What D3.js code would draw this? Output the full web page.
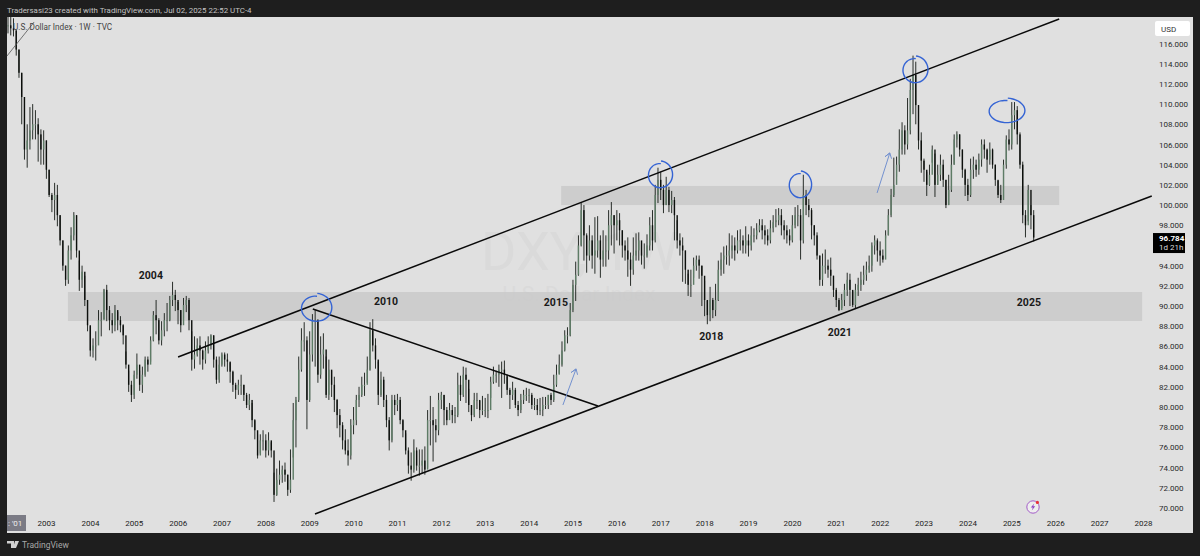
<!DOCTYPE html>
<meta charset="utf-8">
<style>
html, body { margin: 0; padding: 0; background: #1e1e1e; overflow: hidden; }
svg { display: block; font-family: Roboto, "Open Sans", sans-serif; }
</style>
<svg width="1200" height="556"></svg>
<script src="https://d3js.org/d3.v7.min.js"></script>
<script>
// readings, one row is about one year of bars (16 bars per year)
const firstBarYear = 2002.134, barsPerYear = 16;

const highs = [
	119,118.8,118.5,117.3,115.4,113.1,110.7,108,109.7,110,109.4,108.6,107.5,107.4,106.4,103.5,
	101.2,102.2,102,99,96.5,94,96,97.8,99.3,99,94.5,94,93,90.6,88,86.8,
	87.5,89.6,89.4,91.7,92.1,90,89.3,90.1,89.4,89,88.2,85.5,83.6,82.6,83.6,85.3,
	83.6,84,85,85,87,89.5,90.6,88.8,88.5,89.3,90.3,91,92.4,91.6,90.4,89.6,
	90.8,91,90.8,87.5,87,86.8,87,85.7,86.5,87,87.2,87.1,85,85,85.4,85.4,
	85.3,84.4,83.6,82.4,82.7,83.2,82.2,81.4,81.3,80.4,78.8,77.3,77.3,77.7,77.3,77.5,
	76.5,73.5,73.9,74.7,74.2,74.5,73.3,75.8,80.4,81,85,87.8,88.4,87,87.5,89.2,
	89.6,88.7,87,87.3,85,84.7,83.6,83,80.8,79.8,78.5,77.8,76.8,78.8,80,81.2,
	82,83,83.4,85,88.4,88.7,86.8,84.5,83.5,83,81.2,79,81.2,81.2,81.3,81,
	78.8,77.4,76,75.5,76.8,76,75.8,75.8,76.1,79.7,81.1,80,78.8,81.4,81.5,81.2,
	80,80.4,80.2,80,83.4,83.1,84,83.9,81.8,80,81.4,81.4,80.6,81.1,80.9,81.3,
	83,84,83.6,84.2,84.5,84.6,83,81.9,82.5,81.9,80.6,81.3,81.7,81.9,81.8,81.4,
	80.9,80.8,80.9,81,81,81.2,81.4,83.2,84.2,85.2,86.5,87.6,87.9,90.3,92.6,94.4,
	97,100.2,100,97.2,98,97,98.8,98.9,97,97.5,97,99.5,100.3,99,99.5,99.2,
	97.5,96.5,96.8,95.3,96.8,97.2,97.3,96.4,96.2,97.1,98.8,99.5,102,103.7,103.3,102,
	102.8,101.8,101.4,100.8,98.5,97.2,96.8,95.5,93.2,93.6,94.8,95,95,94,92.5,90.5,
	91.9,90.8,92.2,94.5,95.3,95.9,96,97.2,97,96.8,97.5,97.6,97,97.9,97.1,97.9,
	97.7,98.2,98.6,98.6,98,97.6,98.5,99,99.6,99.7,99.6,98.5,98,97.6,99,99.8,
	100,99.6,103,101.5,100.6,99.7,98,97.3,95,95.2,95.6,94.6,94.8,93,91.8,90.8,
	91.2,92.2,93.3,93.2,91.5,92.2,92.8,93.4,94,94.4,95,96.3,97,96.7,96.4,95.6,
	97.5,99.6,101.6,104.7,104.8,107.5,108.2,107.9,110.6,112.5,114.8,114.2,109.9,107.2,104.6,103.3,
	104,105.9,105.1,104,105,104.5,102.5,103,105,107,107.3,107,105.5,103.6,102.6,104.6,
	104.8,104.5,105.1,106.5,106.5,105.6,106.2,105.6,104,102.4,102,104.5,106.9,107.5,110.2,110.2,
	109.8,107.2,104.3,99.5,102,100,99.5
];

const lows = [
	117,116.8,116.7,114.8,112.6,108,104.5,103.7,105.5,106.5,106.5,104.3,104,104,102.6,100.8,
	99.3,98.5,97.9,96,93.5,92,92.2,94.6,96.5,94.8,91.5,91.8,90,87.5,85,84.9,
	84.6,87.5,87,88.7,88.5,87.6,87.3,87.5,87.6,87.4,86.2,83.8,81.5,80.5,80.8,82.8,
	81.6,81.4,83,83.5,84.5,86.5,87.2,86.2,86.1,87,87.5,88.5,90,89.5,88.2,87.4,
	88.8,89.4,87.6,83.6,83.8,85,84.2,83.7,84.3,85.3,85.7,83.9,82.3,82.4,84,84,
	83.5,82.4,81.5,80.8,81.2,81.2,80.6,79.9,79.7,78,76.8,74.9,75.4,75.7,75,75.2,
	75,70.6,71.2,72.3,72.5,72.6,71.2,71.5,75,76,80.5,83.5,85.5,77.8,80.5,84.5,
	84,82.4,82.8,83.8,80.9,80.7,81,79.5,77.9,77,75.8,75.3,74.2,74.8,77.3,78.2,
	80,81,81.1,82.4,83.6,85.5,83.8,80.2,81,80,78,75.7,76.5,79.2,79.6,78.3,
	77,75.3,73.4,72.7,73.5,73.7,73.2,73.4,73.3,74,76.2,74.6,76.5,77.2,79.8,78.2,
	78.2,78.8,78.4,78.4,79,80.6,81,80.4,79.5,78.6,79,79.8,78.9,79.2,79,78.9,
	80.9,82.3,82.4,82,80.9,82.3,81.2,79.8,80.7,79.9,79.1,79.4,80.3,80.6,80.4,79.8,
	79.7,79.2,79.2,79.1,79.8,79.8,80.2,80.5,82,83.3,84,85.5,86.3,87,89.4,90.5,
	93,95.9,94.5,93.3,94.5,93.7,93.2,94.8,92.8,93.9,93.9,94.6,96,95.2,96.5,96,
	94.8,94.5,92.9,92,93.1,94.5,94.5,94.1,93.7,94.8,95.5,95.5,96.3,100.2,100.5,99.2,
	100,99.3,99.2,96.5,95.7,95,92.4,92.2,91,90.9,92.8,93.5,92.7,90,89,88.2,
	88.5,88.8,89,90.5,93,93.2,94.1,94,94.7,94.5,95.2,95.5,95.2,95.2,94.9,95.5,
	96.3,96.6,97.3,96.6,96.1,96,96.2,97.3,97.8,98,97,96.6,96.2,96,96.3,97.7,
	97.9,94.6,96.2,99,98.8,96.6,96,94.6,92,92,93.2,92.8,92,90.9,89.9,89.5,
	89.8,90,91,90,89.9,89.7,91,91.5,92.1,92.5,93.3,93.4,95.1,94.4,94,94.3,
	96.7,97,98.8,100.8,102.8,103.3,105,105,105.5,107,109,108,105.5,103.2,102.3,100.9,
	101.9,104.2,100.8,102,102.4,101.8,99.7,100,101.3,104,105.7,104.8,102.7,100.9,100.4,100.8,
	102.6,102.8,103,103.8,104.6,103.2,104,103.6,101.9,100.7,100.2,100.7,103.6,105.4,105.5,107.5,
	106,103.6,98.2,96.8,98.4,97.6,96.4
];

const closes = [
	117.8,117.5,117.3,115.4,113.1,110.7,105.5,106.4,107.4,108,108,107,105.5,106.4,103.5,101,
	100.5,101,99,96.5,94,92.6,95.5,97,99,95.5,92.6,93.4,90.6,88.1,85.6,86.1,
	86.1,88.6,88.6,91.6,89.6,88.6,88.1,89.6,88.6,88.1,87.1,84.2,82.2,81.2,83.2,84.2,
	82.2,83.2,84.7,84.2,86.6,89.1,88.6,86.6,87.6,88.6,88.6,90.6,91.1,90.6,89.6,88.1,
	90.1,90.6,88.6,84.7,85.2,86.1,85.6,84.7,85.6,86.1,87.1,84.7,82.7,84.2,85.2,84.7,
	84.5,83.5,82.2,81.7,82.2,82.2,81.2,80.2,80.7,78.7,77.7,75.2,76.7,76.7,75.7,76.7,
	75.7,71.3,72.8,73.3,73.8,73.3,71.8,72.8,78.7,80.7,83.7,86.6,86.6,80.7,85.2,88.6,
	88.6,83.2,85.2,85.7,81.2,83.7,82.2,80.7,79.2,78.2,76.7,75.7,75.2,78.2,78.7,80.7,
	81.2,82.2,82.2,83.7,87.6,86.1,84.7,81.2,82.7,80.7,78.7,76.7,80.7,80.2,80.7,78.7,
	77.7,75.7,74.2,73.8,75.7,74.2,74.2,74.7,73.8,78.7,78.7,78.2,77.7,80.7,81.2,79.7,
	78.7,79.7,79.2,79.2,82.2,81.2,83.2,82.7,80.2,79.2,80.7,80.7,79.7,79.7,79.7,79.7,
	82.5,83.2,83.2,83.7,83.7,83.2,81.7,81.2,81.7,80.2,79.7,80.7,81.2,81.2,81.2,80.2,
	80.2,79.7,79.7,80.2,80.2,81.2,80.7,82.2,83.2,84.2,85.6,87.1,87.1,89.6,92.1,93.1,
	96,99.5,97,95,96.5,95,95.5,96.5,94.6,95.5,95.5,98,99,98,98.5,97.5,
	96,95.5,94.6,93.6,95,95.5,96.5,95,95,96,98,96.5,101,102.5,101.5,100,
	101.5,100,100.5,99,96.5,96,95.5,93.6,92.1,92.1,94,94.6,94,93,90.6,89.1,
	90.6,89.6,90.6,93.6,94.6,95,95,95.5,96,95.5,96.5,96.5,96,96.5,96,97,
	97,97.5,98,97.5,97,96.5,97.7,98.3,98.5,99,98,97.5,97,96.5,98,99,
	99,96.5,101,100,99.5,98,97,95,92.6,94,94,93.6,93,91.6,90.6,89.6,
	90.6,91.6,92.6,91.6,90.1,91.6,92.1,92.6,93.1,93.6,94,96,96.5,95.5,95,94.6,
	97,99,101,102,104,105.5,107.4,106,107.4,111.4,112.9,109.9,106.4,104.4,103.5,102,
	103,105.5,102,103,104,102.5,100,101.5,104,106.5,107,105.5,103.5,102,101,103.5,
	104,103.5,104.5,106,105.5,104.5,105.5,104,102.5,101,100.5,104,106.5,106,108.9,109.4,
	107,104,99,98,101.5,99,96.784
];

const yearTicks = d3.range(2003, 2029);
const priceTicks = d3.range(70, 118, 2);
const lastPrice = 96.784, countdown = "1d 21h";

// drawings on the chart, [year, price]
const trendLines = [
	[[2006.01, 84.95], [2026.09, 118.43]],
	[[2009.13, 69.41], [2028.2, 100.9]],
	[[2009.08, 89.71], [2015.58, 80.1]]
];
const thinLine = [[2002.11, 114.76], [2002.73, 118.13]];
const arrows = [
	[[2014.78, 80.2], [2015.08, 83.77]],
	[[2021.94, 101.2], [2022.23, 105.16]]
];
// year0, year1, price0, price1
const zones = [
	[2003.5, 2027.98, 88.52, 91.39],
	[2014.74, 2026.09, 100, 101.89]
];
// year, price, year radius, price radius
const rings = [
	[2009.15, 89.81, 0.34, 1.29],
	[2016.99, 102.98, 0.27, 1.24],
	[2020.18, 101.99, 0.25, 1.24],
	[2022.8, 113.38, 0.28, 1.24],
	[2024.88, 109.32, 0.40, 1.14]
];
const noteNames = ["2004", "2010", "2015", "2018", "2021", "2025"];
const noteYears = [2005.39, 2010.75, 2014.62, 2018.16, 2021.09, 2025.4];
const notePrices = [93.07, 90.5, 90.4, 87.03, 87.43, 90.4];

const svg = d3.select("svg"),
      plot = {left: 7, right: 1193, top: 17, bottom: 533};

const xScale = d3.scaleLinear().domain([2003, 2028]).range([46, 1143]),
      yScale = d3.scaleLinear().domain([70, 116]).range([508, 43.5]);

svg.append("rect").attr("width", 1200).attr("height", 556).attr("fill", "#1e1e1e");
svg.append("rect")
	.attr("x", plot.left).attr("y", plot.top)
	.attr("width", plot.right - plot.left).attr("height", plot.bottom - plot.top)
	.attr("fill", "#e0e0e0");

svg.append("clipPath").attr("id", "plotclip").append("rect")
	.attr("x", plot.left).attr("y", plot.top)
	.attr("width", plot.right - plot.left).attr("height", plot.bottom - plot.top);

// watermark
svg.append("text").attr("x", 580).attr("y", 270).attr("text-anchor", "middle")
	.attr("font-size", 54).attr("fill", "#dadada").text("DXY, 1W");
svg.append("text").attr("x", 579).attr("y", 301).attr("text-anchor", "middle")
	.attr("font-size", 21).attr("fill", "#dadada").text("U.S. Dollar Index");

// zones
svg.append("g").selectAll("rect").data(zones).enter().append("rect")
	.attr("x", (d) => xScale(d[0]))
	.attr("width", (d) => xScale(d[1]) - xScale(d[0]))
	.attr("y", (d) => yScale(d[3]))
	.attr("height", (d) => yScale(d[2]) - yScale(d[3]))
	.attr("fill", "#cbcbcb").attr("fill-opacity", 0.92);

// bars
const bars = closes.map((close, i) => ({
	t: firstBarYear + i / barsPerYear,
	high: highs[i], low: lows[i], close: close,
	open: i ? closes[i - 1] : close
}));

const barG = svg.append("g").attr("clip-path", "url(#plotclip)");
barG.selectAll("line").data(bars).enter().append("line")
	.attr("x1", (d) => xScale(d.t)).attr("x2", (d) => xScale(d.t))
	.attr("y1", (d) => yScale(d.high)).attr("y2", (d) => yScale(d.low))
	.attr("stroke", "#141a15").attr("stroke-width", 0.9);
barG.selectAll("rect").data(bars).enter().append("rect")
	.attr("x", (d) => xScale(d.t) - 0.7)
	.attr("width", 1.4)
	.attr("y", (d) => yScale(Math.max(d.open, d.close)))
	.attr("height", (d) => Math.max(1, Math.abs(yScale(d.open) - yScale(d.close))))
	.attr("fill", (d) => d.close >= d.open ? "#5e7c66" : "#0c0f0c");

const line = d3.line().x((d) => xScale(d[0])).y((d) => yScale(d[1]));

// trend lines
svg.append("g").selectAll("path").data(trendLines).enter().append("path")
	.attr("d", line).attr("fill", "none")
	.attr("stroke", "#0a0a0a").attr("stroke-width", 1.5);
svg.append("path").attr("d", line(thinLine)).attr("fill", "none")
	.attr("stroke", "#555").attr("stroke-width", 0.8);

// blue arrows
svg.append("g").selectAll("path").data(arrows).enter().append("path")
	.attr("d", (d) => {
		const [x0, y0] = [xScale(d[0][0]), yScale(d[0][1])],
		      [x1, y1] = [xScale(d[1][0]), yScale(d[1][1])],
		      a = Math.atan2(y1 - y0, x1 - x0),
		      head = (s) => [x1 - 6 * Math.cos(a + s), y1 - 6 * Math.sin(a + s)];
		return d3.line()([[x0, y0], [x1, y1], head(0.6), [x1, y1], head(-0.6)]);
	})
	.attr("fill", "none").attr("stroke", "#7391cf").attr("stroke-width", 1);

// hand drawn rings, start a bit outside and overshoot the closing point
svg.append("g").selectAll("path").data(rings).enter().append("path")
	.attr("d", (d) => {
		const cx = xScale(d[0]), cy = yScale(d[1]),
		      rx = xScale(d[2]) - xScale(0), ry = yScale(0) - yScale(d[3]);
		const pts = d3.range(0, 372, 12).map((deg) => {
			const a = (deg - 85) * Math.PI / 180, k = 1.12 - deg / 372 * 0.22;
			return [cx + rx * k * Math.cos(a), cy + ry * k * Math.sin(a)];
		});
		return d3.line().curve(d3.curveCatmullRom)(pts);
	})
	.attr("fill", "none").attr("stroke", "#3564d4").attr("stroke-width", 1.4);

// year notes
svg.append("g").selectAll("text").data(noteNames).enter().append("text")
	.attr("x", (d, i) => xScale(noteYears[i]))
	.attr("y", (d, i) => yScale(notePrices[i]))
	.attr("dy", "0.35em").attr("text-anchor", "middle")
	.attr("font-size", 10.5).attr("font-weight", 700).attr("fill", "#1a1a1a")
	.text((d) => d);

// axes
const yAxis = d3.axisRight(yScale).tickValues(priceTicks).tickSize(0).tickPadding(0)
	.tickFormat(d3.format(".3f"));
const yG = svg.append("g").attr("transform", "translate(1159,0)").call(yAxis);
yG.select(".domain").remove();
yG.selectAll("text").attr("font-size", 8).attr("font-family", "Roboto").attr("fill", "#2a2a2a");

const xAxis = d3.axisBottom(xScale).tickValues(yearTicks).tickSize(0).tickPadding(0)
	.tickFormat(d3.format("d"));
const xG = svg.append("g").attr("transform", "translate(0,520)").call(xAxis);
xG.select(".domain").remove();
xG.selectAll("text").attr("font-size", 8).attr("font-family", "Roboto").attr("fill", "#1c1c1c");

// date box on the left end of the time axis
svg.append("rect").attr("x", 7).attr("y", 515).attr("width", 19).attr("height", 16).attr("fill", "#7b7b85");
svg.append("text").attr("x", 8).attr("y", 526).attr("font-size", 8).attr("fill", "#eee").text(": '01");

// USD box
svg.append("rect").attr("x", 1155).attr("y", 21).attr("width", 35).attr("height", 15).attr("rx", 2).attr("fill", "#fff");
svg.append("text").attr("x", 1161).attr("y", 32).attr("font-size", 8).attr("fill", "#333").text("USD");

// last price tag
svg.append("rect").attr("x", 1153).attr("y", yScale(lastPrice) - 4.5)
	.attr("width", 32).attr("height", 20).attr("fill", "#000");
svg.append("text").attr("x", 1159).attr("y", yScale(lastPrice) + 3.5)
	.attr("font-size", 8).attr("font-weight", 700).attr("fill", "#fff").text(d3.format(".3f")(lastPrice));
svg.append("text").attr("x", 1159).attr("y", yScale(lastPrice) + 12.5)
	.attr("font-size", 8).attr("fill", "#ddd").text(countdown);

// bolt badge
const badge = svg.append("g").attr("transform", "translate(1033,507)");
badge.append("circle").attr("r", 6.2).attr("fill", "#eee").attr("stroke", "#a35cc8").attr("stroke-width", 1);
badge.append("path").attr("d", "M1.2,-3.6L-2.2,0.6L-0.2,0.6L-1.2,3.6L2.2,-0.8L0.2,-0.8Z").attr("fill", "#8e44c4");
badge.append("circle").attr("cx", 4.4).attr("cy", -4.6).attr("r", 1.6).attr("fill", "#e8303a");

// header, chart title, footer
svg.append("text").attr("x", 7).attr("y", 13).attr("font-size", 7.9).attr("fill", "#c4c4c4")
	.text("Tradersasi23 created with TradingView.com, Jul 02, 2025 22:52 UTC-4");
svg.append("text").attr("x", 13).attr("y", 30).attr("font-size", 8.2).attr("fill", "#444")
	.text("U.S. Dollar Index · 1W · TVC");
svg.append("text").attr("x", 22).attr("y", 548).attr("font-size", 8.5).attr("fill", "#a8a8a8").text("TradingView");
svg.append("path").attr("d", "M7,541h7v7h-3v-4.5h-4zM15,541h4l-3,7h-3z").attr("fill", "#d0d0d0");
</script>
